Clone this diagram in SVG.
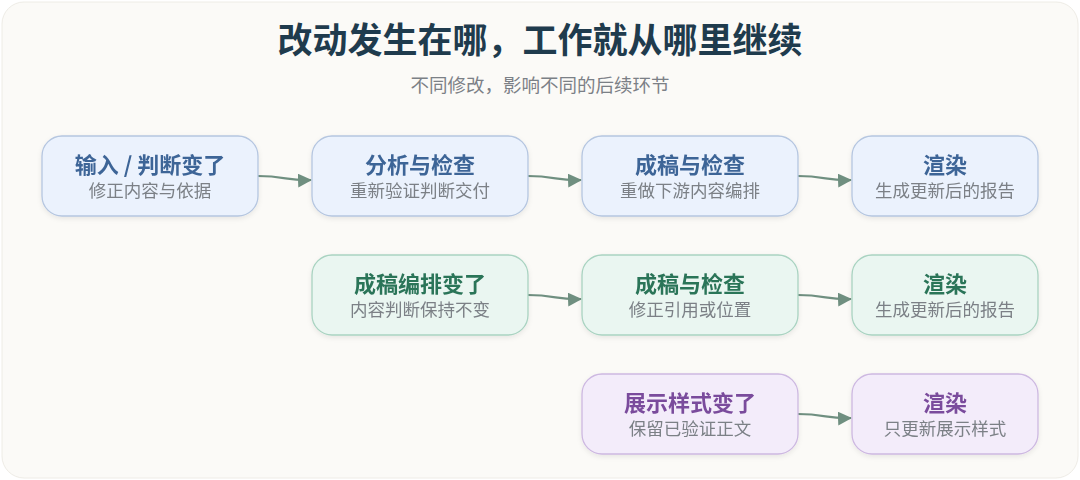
<svg xmlns="http://www.w3.org/2000/svg" width="1080" height="480" viewBox="0 0 1080 480">
<style>
text{font-family:"Noto Sans CJK SC","Noto Sans",sans-serif;text-anchor:middle}
.t{font-size:22px;font-weight:700}
.s{font-size:17.5px;fill:#7b8086}
.b rect{stroke-width:1.3}
.blue rect{fill:#ebf2fd;stroke:#b5c6e0}.blue .t{fill:#3e6597}
.green rect{fill:#eaf6f1;stroke:#a9d3c1}.green .t{fill:#2c7459}
.purple rect{fill:#f3ecfa;stroke:#cdb8e1}.purple .t{fill:#7a4b9c}
.c path{fill:none;stroke:#6f8f80;stroke-width:2.2;marker-end:url(#a)}
</style>
<defs>
<marker id="a" markerWidth="14" markerHeight="14" refX="13" refY="7" orient="auto" markerUnits="userSpaceOnUse" viewBox="0 0 14 14"><path d="M0,0 L14,7 L0,14 z" fill="#6f8f80"/></marker>
<filter id="sh" x="-10%" y="-10%" width="120%" height="130%"><feDropShadow dx="0" dy="2" stdDeviation="2.5" flood-color="#000" flood-opacity="0.08"/></filter>
</defs>
<rect width="1080" height="480" fill="#ffffff"/>
<rect x="2" y="2" width="1076" height="476" rx="22" fill="#fbfaf7" stroke="#eeece6"/>
<text x="540" y="53" style="font-size:35px;font-weight:700;fill:#1f3b4d">改动发生在哪，工作就从哪里继续</text>
<text x="540" y="92" style="font-size:18.5px;fill:#7b8086">不同修改，影响不同的后续环节</text>
<g class="c">
<path d="M258,176 C285,176 288,181 311,180"/>
<path d="M528,176 C555,176 558,181 581,180"/>
<path d="M798,176 C825,176 828,181 851,180"/>
<path d="M528,295 C555,295 558,300 581,299"/>
<path d="M798,295 C825,295 828,300 851,299"/>
<path d="M798,414 C825,414 828,419 851,418"/>
</g>
<g id="n1" class="b blue" filter="url(#sh)"><rect x="42" y="136" width="216" height="80" rx="20"/><text class="t" x="150" y="173">输入 / 判断变了</text><text class="s" x="150" y="197">修正内容与依据</text></g>
<g id="n2" class="b blue" filter="url(#sh)"><rect x="312" y="136" width="216" height="80" rx="20"/><text class="t" x="420" y="173">分析与检查</text><text class="s" x="420" y="197">重新验证判断交付</text></g>
<g id="n3" class="b blue" filter="url(#sh)"><rect x="582" y="136" width="216" height="80" rx="20"/><text class="t" x="690" y="173">成稿与检查</text><text class="s" x="690" y="197">重做下游内容编排</text></g>
<g id="n4" class="b blue" filter="url(#sh)"><rect x="852" y="136" width="186" height="80" rx="20"/><text class="t" x="945" y="173">渲染</text><text class="s" x="945" y="197">生成更新后的报告</text></g>
<g id="n5" class="b green" filter="url(#sh)"><rect x="312" y="255" width="216" height="80" rx="20"/><text class="t" x="420" y="292">成稿编排变了</text><text class="s" x="420" y="316">内容判断保持不变</text></g>
<g id="n6" class="b green" filter="url(#sh)"><rect x="582" y="255" width="216" height="80" rx="20"/><text class="t" x="690" y="292">成稿与检查</text><text class="s" x="690" y="316">修正引用或位置</text></g>
<g id="n7" class="b green" filter="url(#sh)"><rect x="852" y="255" width="186" height="80" rx="20"/><text class="t" x="945" y="292">渲染</text><text class="s" x="945" y="316">生成更新后的报告</text></g>
<g id="n8" class="b purple" filter="url(#sh)"><rect x="582" y="374" width="216" height="80" rx="20"/><text class="t" x="690" y="411">展示样式变了</text><text class="s" x="690" y="435">保留已验证正文</text></g>
<g id="n9" class="b purple" filter="url(#sh)"><rect x="852" y="374" width="186" height="80" rx="20"/><text class="t" x="945" y="411">渲染</text><text class="s" x="945" y="435">只更新展示样式</text></g>
</svg>
